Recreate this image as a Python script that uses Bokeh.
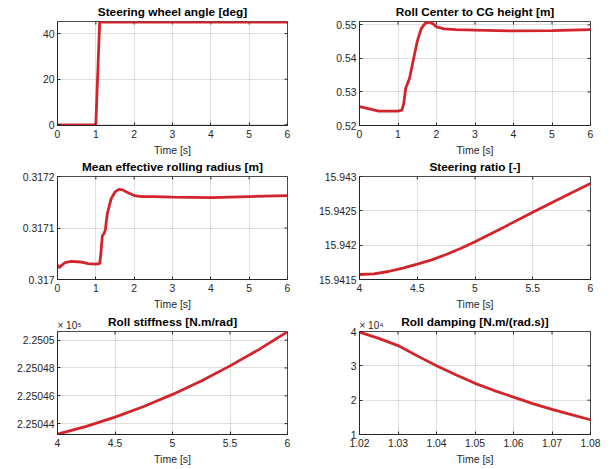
import math
from bokeh.plotting import figure
from bokeh.layouts import column, row
from bokeh.models import FixedTicker, CustomJSTickFormatter, Range1d, Label
from bokeh.embed import file_html
from bokeh.resources import INLINE

# ---------------- data ----------------
# Steering wheel angle [deg]
t_swa = [0.0, 1.0, 1.1, 6.0]
swa = [0.0, 0.0, 45.0, 45.0]

# Roll Center to CG height [m]
t_rc = [0.0, 0.2, 0.5, 0.8, 1.0, 1.1, 1.15, 1.2, 1.25, 1.3, 1.4, 1.5, 1.6, 1.7,
        1.8, 1.9, 2.0, 2.2, 2.5, 3.0, 4.0, 5.0, 6.0]
rc = [0.5256, 0.5251, 0.5243, 0.5243, 0.5243, 0.5246, 0.5266, 0.5311, 0.5326,
      0.5341, 0.5396, 0.5451, 0.5488, 0.5504, 0.5508, 0.5504, 0.5494, 0.5488,
      0.5486, 0.5484, 0.5482, 0.5483, 0.5486]

# Mean effective rolling radius [m]
t_rr = [0.0, 0.05, 0.1, 0.2, 0.35, 0.6, 0.8, 1.0, 1.1, 1.13, 1.17, 1.22, 1.25,
        1.3, 1.4, 1.5, 1.6, 1.7, 1.8, 2.0, 2.2, 2.5, 3.0, 4.0, 5.0, 6.0]
rr = [0.3170282, 0.317023, 0.317027, 0.317033, 0.317035, 0.317034, 0.317031,
      0.317030, 0.317031, 0.317049, 0.317085, 0.317090, 0.317098, 0.317128,
      0.317157, 0.317170, 0.317175, 0.317174, 0.317170, 0.317163, 0.317161,
      0.317161, 0.317160, 0.317159, 0.317161, 0.317163]

# Steering ratio [-]
t_sr = [4.0, 4.125, 4.25, 4.375, 4.5, 4.625, 4.75, 4.875, 5.0, 5.25, 5.5, 5.75, 6.0]
sr = [15.9415728, 15.9415825, 15.9416165, 15.941665, 15.9417233, 15.9417864,
      15.941864, 15.9419515, 15.9420485, 15.942262, 15.942481, 15.942689,
      15.942898]

# Roll stiffness [N.m/rad]
t_rs = [4.0, 4.25, 4.5, 4.75, 5.0, 5.25, 5.5, 5.75, 6.0]
rs = [225043.24, 225043.80, 225044.47, 225045.23, 225046.10, 225047.07,
      225048.15, 225049.32, 225050.60]

# Roll damping [N.m/(rad.s)]
t_rd = [1.02, 1.025, 1.03, 1.035, 1.04, 1.045, 1.05, 1.055, 1.06, 1.065, 1.07,
        1.075, 1.08]
rd = [39800, 38000, 35900, 32900, 30000, 27400, 24900, 22800, 20900, 19000,
      17300, 15800, 14300]

# tick values
xt_full = [0, 1, 2, 3, 4, 5, 6]
xt_half = [4, 4.5, 5, 5.5, 6]
xt_rd = [1.02, 1.03, 1.04, 1.05, 1.06, 1.07, 1.08]
yt_swa = [0, 20, 40]
yt_rc = [0.52, 0.53, 0.54, 0.55]
yt_rr = [0.317, 0.3171, 0.3172]
yt_sr = [15.9415, 15.942, 15.9425, 15.943]
yt_rs = [2.25044, 2.25046, 2.25048, 2.2505]
yt_rd = [1, 2, 3, 4]

titles = ["Steering wheel angle [deg]", "Roll Center to CG height [m]",
          "Mean effective rolling radius [m]", "Steering ratio [-]",
          "Roll stiffness [N.m/rad]", "Roll damping [N.m/(rad.s)]"]
xlabel = "Time [s]"

# ---------------- style ----------------
FONT = "Liberation Sans"
RED = "#D3242B"
TXT = "#262626"

fmt_code = "return String(parseFloat(tick.toFixed(6)));"


def make(title, xs, ys, xr, yr, xt, yt, col, rowi, exp=None):
    lefts = [57, 48]
    rights = [24, 26]
    fws = [230, 231]
    tops = [21, 19, 19]
    bottoms = [32, 33, 35]
    fhs = [104, 103, 103]
    p = figure(frame_width=fws[col], frame_height=fhs[rowi],
               min_border_left=lefts[col], min_border_right=rights[col],
               min_border_top=tops[rowi], min_border_bottom=bottoms[rowi],
               x_range=Range1d(*xr), y_range=Range1d(*yr),
               output_backend="svg", toolbar_location=None, title=None)
    p.outline_line_color = "#4a4a4a"
    p.outline_line_width = 1
    p.background_fill_color = "white"
    p.border_fill_color = "white"
    for ax, ticks in ((p.xaxis[0], xt), (p.yaxis[0], yt)):
        ax.ticker = FixedTicker(ticks=ticks)
        ax.formatter = CustomJSTickFormatter(code=fmt_code)
        ax.major_tick_in = 3
        ax.major_tick_out = 0
        ax.minor_tick_line_color = None
        ax.axis_line_color = TXT
        ax.major_tick_line_color = TXT
        ax.major_label_text_font = FONT
        ax.major_label_text_font_size = "10.4px"
        ax.major_label_text_color = TXT
    p.yaxis.major_label_standoff = 3
    p.xaxis.major_label_standoff = 4
    p.grid.grid_line_color = TXT
    p.grid.grid_line_alpha = 0.15
    # inward tick marks on the top and right edges of the box
    p.ray(x=xt, y=[yr[1]] * len(xt), length=3, length_units="screen",
          angle=-math.pi / 2, line_color=TXT, line_width=1)
    p.ray(x=[xr[1]] * len(yt), y=yt, length=3, length_units="screen",
          angle=math.pi, line_color=TXT, line_width=1)
    p.line(xs, ys, line_color=RED, line_width=2.8)
    xmid = (xr[0] + xr[1]) / 2
    # title (bold, centred over the frame), kept in the top side panel
    p.add_layout(Label(x=xmid, y=yr[1], text=title, x_units="data", y_units="data",
                       y_offset=10, text_align="center", text_baseline="alphabetic",
                       text_font=FONT, text_font_size="11.8px",
                       text_font_style="bold", text_color="#000000"), "above")
    # x axis label
    p.add_layout(Label(x=xmid, y=yr[0], text=xlabel, x_units="data", y_units="data",
                       y_offset=-24.5, text_align="center", text_baseline="alphabetic",
                       text_font=FONT, text_font_size="10.5px", text_color=TXT),
                 "below")
    if exp is not None:
        # multiplier of the y axis, just above the frame's top-left corner
        p.add_layout(Label(x=xr[0], y=yr[1], text="\u00d7 10" + exp, x_units="data",
                           y_units="data", y_offset=6.5, text_baseline="alphabetic",
                           text_font=FONT, text_font_size="10px", text_color=TXT),
                     "right")
    return p


SUP = {"5": "\u2075", "4": "\u2074"}

p1 = make(titles[0], t_swa, swa, (0, 6), (-0.3, 45.3), xt_full, yt_swa, 0, 0)
p2 = make(titles[1], t_rc, rc, (0, 6), (0.52, 0.5510), xt_full, yt_rc, 1, 0)
p3 = make(titles[2], t_rr, rr, (0, 6), (0.317, 0.3172), xt_full, yt_rr, 0, 1)
p4 = make(titles[3], t_sr, sr, (4, 6), (15.9415, 15.943), xt_half, yt_sr, 1, 1)
rs_scaled = [v / 1e5 for v in rs]
p5 = make(titles[4], t_rs, rs_scaled, (4, 6), (2.2504322, 2.2505062),
          xt_half, yt_rs, 0, 2, exp=SUP["5"])
rd_scaled = [v / 1e4 for v in rd]
p6 = make(titles[5], t_rd, rd_scaled, (1.02, 1.08), (1, 4),
          xt_rd, yt_rd, 1, 2, exp=SUP["4"])

layout = column(row(p1, p2, spacing=0), row(p3, p4, spacing=0),
                row(p5, p6, spacing=0), spacing=0)

open("out.html", "w").write(file_html(layout, INLINE))
